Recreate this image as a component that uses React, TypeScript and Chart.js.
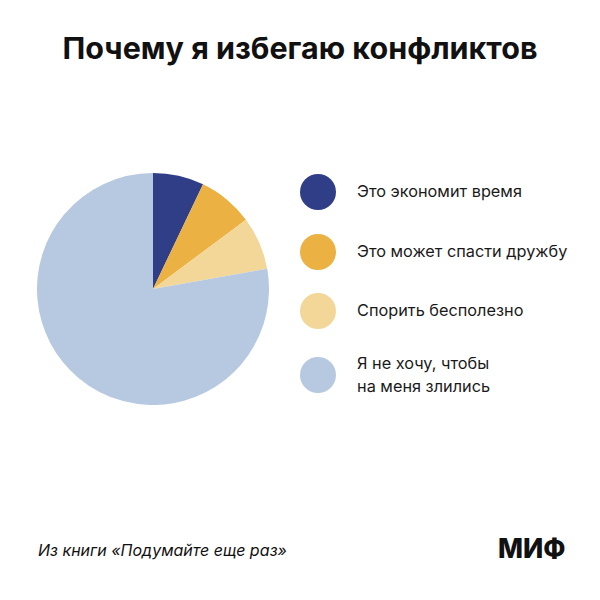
import React, { useEffect, useRef } from "react";
import { Chart, registerables } from "chart.js";

Chart.register(...registerables);

const title = "Почему я избегаю конфликтов";
const categories: string[][] = [
  ["Это экономит время"],
  ["Это может спасти дружбу"],
  ["Спорить бесполезно"],
  ["Я не хочу, чтобы", "на меня злились"],
];
const values = [7.1, 7.7, 7.4, 77.8];
const colors = ["#2f3e86", "#ebb142", "#f3d799", "#b7c9e0"];
const source = "Из книги «Подумайте еще раз»";
const brand = "МИФ";

const FONT = "Inter, 'Noto Sans', sans-serif";

export default function App() {
  const canvasRef = useRef<HTMLCanvasElement | null>(null);

  useEffect(() => {
    document.body.style.margin = "0";
    const chart = new Chart(canvasRef.current!, {
      type: "pie",
      data: {
        labels: categories.map((c) => c.join(" ")),
        datasets: [
          {
            data: values,
            backgroundColor: colors,
            borderWidth: 0,
          },
        ],
      },
      options: {
        animation: false,
        responsive: true,
        maintainAspectRatio: false,
        layout: { padding: 0 },
        plugins: {
          legend: { display: false },
          tooltip: { enabled: false },
          title: { display: false },
        },
      },
    });
    return () => chart.destroy();
  }, []);

  const legendTops = [191.5, 251.5, 310.5, 375];

  return (
    <div
      style={{
        position: "fixed",
        left: 0,
        top: 0,
        width: 600,
        height: 600,
        background: "#fff",
        fontFamily: FONT,
        color: "#111",
      }}
    >
      <div
        style={{
          position: "absolute",
          left: 0,
          width: 600,
          top: 28,
          textAlign: "center",
          fontSize: 30.5,
          lineHeight: "40px",
          fontWeight: 700,
          letterSpacing: 0,
        }}
      >
        {title}
      </div>
      <div
        style={{
          position: "absolute",
          left: 37,
          top: 173,
          width: 232,
          height: 232,
        }}
      >
        <canvas ref={canvasRef} />
      </div>
      {categories.map((lines, i) => (
        <div key={i}>
          <div
            style={{
              position: "absolute",
              left: 300,
              top: legendTops[i] - 18,
              width: 36,
              height: 36,
              borderRadius: "50%",
              background: colors[i],
            }}
          />
          <div
            style={{
              position: "absolute",
              left: 357,
              top: legendTops[i] - (lines.length * 23) / 2,
              fontSize: 16.3,
              lineHeight: "23px",
              color: "#1a1a1a",
            }}
          >
            {lines.map((l, j) => (
              <div key={j}>{l}</div>
            ))}
          </div>
        </div>
      ))}
      <div
        style={{
          position: "absolute",
          left: 38,
          top: 540,
          fontSize: 16,
          fontStyle: "italic",
          lineHeight: "20px",
        }}
      >
        {source}
      </div>
      <div
        style={{
          position: "absolute",
          left: 498,
          top: 533,
          fontSize: 26.5,
          fontWeight: 800,
          lineHeight: "30px",
        }}
      >
        {brand}
      </div>
    </div>
  );
}
